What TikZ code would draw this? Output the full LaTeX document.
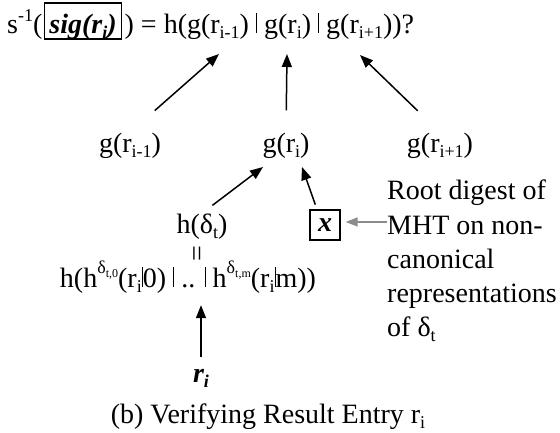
\documentclass[tikz,border=0pt]{standalone}
\usepackage{fontspec}
\setmainfont{Liberation Serif}
\usetikzlibrary{arrows.meta}
\newcommand\sbs[1]{\raisebox{-0.2em}{\fontsize{18}{18}\selectfont #1}}
\newcommand\sps[1]{\raisebox{0.42em}{\fontsize{18}{18}\selectfont #1}}
\newcommand\dsup[1]{\raisebox{0.5em}{\fontsize{18}{18}\selectfont δ\raisebox{-0.25em}{\fontsize{12}{12}\selectfont #1}}}
\newcommand\vb{\rule{1.1pt}{20pt}}
\begin{document}
\begin{tikzpicture}[x=1pt,y=-1pt,
  font=\fontsize{28}{34}\selectfont,
  txt/.style={inner sep=0pt, anchor=base},
  arr/.style={line width=1.5pt, -{Triangle[length=13pt,width=10pt]}},
  garr/.style={line width=1.5pt, draw=gray!90, -{Triangle[length=12pt,width=9pt]}}]
\useasboundingbox (0,0) rectangle (560,432);
% title
\node[txt, anchor=base west] (tA) at (7,33) {s\sps{-1}(};
\node[anchor=base west, draw, line width=1.6pt, inner xsep=5pt, inner ysep=0pt,
      text height=30pt, text depth=6pt] (sig) at ([xshift=1pt]tA.base east)
      {\textbf{\textit{sig(r\sbs{i})}}};
\node[txt, anchor=base west] (tB) at ([xshift=2pt]sig.base east)
      {) = h(g(r\sbs{i-1}) \vb{} g(r\sbs{i}) \vb{} g(r\sbs{i+1}))?};
% second row
\node[txt] (gl) at (130,152) {g(r\sbs{i-1})};
\node[txt] (gm) at (286,152) {g(r\sbs{i})};
\node[txt] (gr) at (440,152) {g(r\sbs{i+1})};
\coordinate (t1) at (219,54);
\coordinate (t2) at (287,54);
\coordinate (t3) at (360,55);
\draw[arr, shorten <=33pt] (gl.north) -- (t1);
\draw[arr, shorten <=22pt] (gm.north) -- (t2);
\draw[arr, shorten <=31pt] (gr.north) -- (t3);
% third row
\node[txt] (hd) at (202,233) {h(δ\sbs{t})};
\node[draw, line width=1.3pt, minimum size=30pt, inner sep=0pt] (xb) at (325,225)
      {\textbf{\textit{x}}};
\coordinate (t4) at (263,167);
\coordinate (t5) at (302,167);
\draw[arr, shorten <=13pt] (hd.north) -- (t4);
\draw[arr, shorten <=5pt] ([xshift=-8pt]xb.north) -- (t5);
\node[rotate=90, inner sep=0pt] (eq) at (200,254) {=};
\node[txt] (lf) at (188,287)
  {h(h\dsup{t,0}(r\sbs{i}\vb{}0) \vb{} .. \vb{} h\dsup{t,m}(r\sbs{i}\vb{}m))};
\node[txt] (ri) at (201,382) {\textbf{\textit{r\sbs{i}}}};
\draw[arr, shorten <=12pt, shorten >=12pt] (ri.north) -- (ri.north |- lf.south);
% description
\node[txt, anchor=base west] (d1) at (387,199) {Root digest of};
\node[txt, anchor=base west] (d2) at (387,234) {MHT on non-};
\node[txt, anchor=base west] (d3) at (387,268) {canonical};
\node[txt, anchor=base west] (d4) at (387,302) {representations};
\node[txt, anchor=base west] (d5) at (387,336) {of δ\sbs{t}};
\draw[garr, shorten >=5pt] ([yshift=3pt]d2.west) -- ([yshift=3pt]d2.west -| xb.east);
% caption
\node[txt] (cap) at (268,423) {(b) Verifying Result Entry r\sbs{i}};
\end{tikzpicture}
\end{document}
